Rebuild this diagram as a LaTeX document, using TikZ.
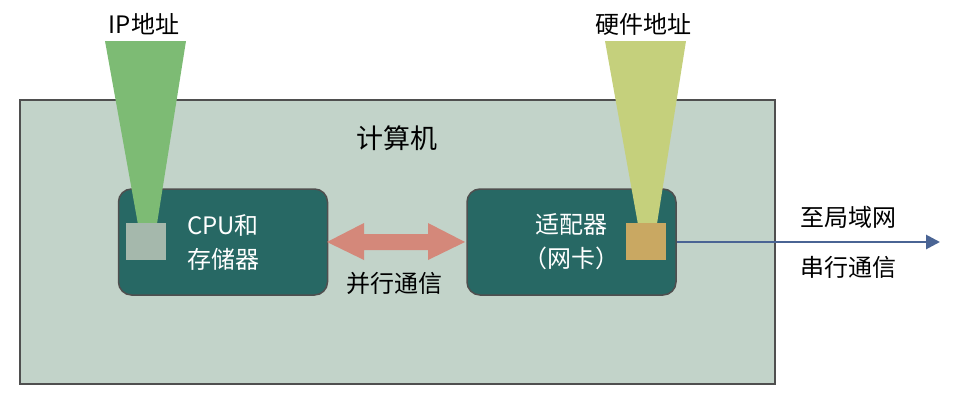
\documentclass[tikz,border=0pt]{standalone}
\usepackage{fontspec}
\setmainfont{Noto Sans CJK SC}
\usetikzlibrary{arrows.meta}
\definecolor{outerbg}{HTML}{C2D3C9}
\definecolor{boxfill}{HTML}{276864}
\definecolor{borderc}{HTML}{4F4F4F}
\definecolor{greentri}{HTML}{7DBB74}
\definecolor{yellowtri}{HTML}{C5D07C}
\definecolor{graysq}{HTML}{A5B8AC}
\definecolor{goldsq}{HTML}{C9A862}
\definecolor{salmon}{HTML}{D4887A}
\definecolor{bluearr}{HTML}{4A6494}
\tikzset{
  unitbox/.style={draw=borderc, line width=1.5pt, fill=boxfill, rounded corners=13pt},
  txt/.style={font=\fontsize{24}{28}\selectfont, inner sep=0pt},
  wtxt/.style={txt, text=white, align=center},
  sq/.style={inner sep=0pt, minimum width=40pt, minimum height=37pt},
}
\begin{document}
\begin{tikzpicture}[x=1pt,y=-1pt]
\useasboundingbox (0,0) rectangle (964,402);
% outer computer box
\node[draw=borderc, line width=1.8pt, fill=outerbg, minimum width=755pt, minimum height=284pt, inner sep=0pt] (comp) at (397.5,242) {};
\node[txt, font=\fontsize{27}{30}\selectfont] (title) at (397,138) {计算机};
% inner boxes
\node[unitbox, minimum width=209pt, minimum height=106pt, inner sep=0pt] (cpu) at (223,242) {};
\node[unitbox, minimum width=209pt, minimum height=106pt, inner sep=0pt] (nic) at (571.5,242) {};
\node[wtxt] (cput) at (223,242) {CPU和\\[6pt]存储器};
\node[wtxt] (nict) at (571,242) {适配器\\[6pt]（网卡）};
% triangles (lower ends hidden under the squares)
\fill[greentri] (105,41) -- (186,41) -- (156,230) -- (139,230) -- cycle;
\fill[yellowtri] (605,41) -- (686,41) -- (656,230) -- (639,230) -- cycle;
\node[sq, fill=graysq] (ip) at (146,241.5) {};
\node[sq, fill=goldsq] (mac) at (646,241.5) {};
\node[txt] (iplab) at (144,24) {IP地址};
\node[txt] (maclab) at (643,24) {硬件地址};
% double arrow
\fill[salmon] (327,242) -- (364,223) -- (364,234) -- (428,234) -- (428,223) -- (465,242)
  -- (428,260) -- (428,250) -- (364,250) -- (364,260) -- cycle;
\node[txt] (par) at (394,283) {并行通信};
% serial link
\coordinate (lan) at (940,242);
\draw[bluearr, line width=2.8pt, -{Triangle[length=14pt,width=14pt]}] (nic.east) -- (lan);
\node[txt] (lanlab) at (848,217) {至局域网};
\node[txt] (serlab) at (848,267) {串行通信};
\end{tikzpicture}
\end{document}
